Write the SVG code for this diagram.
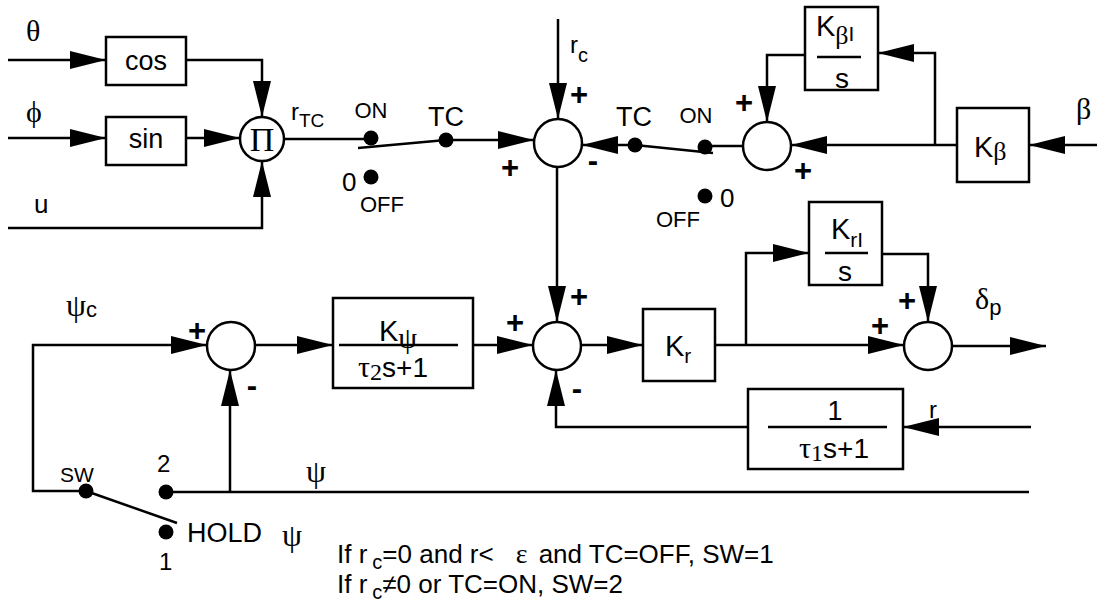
<svg xmlns="http://www.w3.org/2000/svg" width="1097" height="604" viewBox="0 0 1097 604">
<style>
.w{fill:none;stroke:#000;stroke-width:2.5}
.a{marker-end:url(#ah)}
.b{fill:#fff;stroke:#000;stroke-width:2.5}
.c{fill:#fff;stroke:#000;stroke-width:2.5}
.d{fill:#000}
text{font-family:"Liberation Sans",Arial,sans-serif;fill:#000}
.g{font-family:"Liberation Serif","Times New Roman",serif}
.p{font-weight:bold;font-size:31px;text-anchor:middle}
.m{text-anchor:middle}
</style>
<defs>
<marker id="ah" markerUnits="userSpaceOnUse" markerWidth="36" markerHeight="18" refX="36" refY="9" orient="auto" viewBox="0 0 36 18">
<path d="M0,0 L36,9 L0,18 z" fill="#000"/>
</marker>
</defs>
<g id="connectors">
<path class="w a" d="M8,60 H106"/>
<path class="w a" d="M186,60 H262 V117"/>
<path class="w a" d="M8,138 H106"/>
<path class="w a" d="M186,138 H240"/>
<path class="w a" d="M8,228 H262 V161"/>
<path class="w" d="M284,139 H371"/>
<path class="w a" d="M446,140 H534"/>
<path class="w a" d="M558,19 V119"/>
<path class="w a" d="M557,167 V322"/>
<path class="w a" d="M635,145 H582"/>
<path class="w" d="M743,146 H705"/>
<path class="w a" d="M1097,145 H1029"/>
<path class="w a" d="M957,145 H791"/>
<path class="w a" d="M935,145 V53 H878"/>
<path class="w a" d="M805,55 H767 V122"/>
<path class="w a" d="M86,491 H33 V345 H207"/>
<path class="w a" d="M255,345 H333"/>
<path class="w a" d="M473,345 H533"/>
<path class="w a" d="M581,345 H643"/>
<path class="w a" d="M715,345 H904"/>
<path class="w a" d="M746,345 V253 H809"/>
<path class="w a" d="M882,254 H928 V322"/>
<path class="w a" d="M952,346 H1046"/>
<path class="w a" d="M1031,427 H903"/>
<path class="w a" d="M748,427 H556 V370"/>
<path class="w" d="M166,492 H1029"/>
<path class="w a" d="M230,492 V370"/>
</g>
<g id="inputs">
<text class="g" x="26" y="41" font-size="30">θ</text>
<text class="g" x="26" y="122" font-size="30">ϕ</text>
<text x="34" y="213" font-size="26">u</text>
</g>
<g id="cos"><rect class="b" x="106" y="37" width="80" height="48"/><text class="m" x="146" y="70" font-size="27">cos</text></g>
<g id="sin"><rect class="b" x="106" y="117" width="80" height="48"/><text class="m" x="146" y="148" font-size="27">sin</text></g>
<g id="product"><circle class="c" cx="262" cy="139" r="22"/><text class="g m" x="262" y="151" font-size="34">Π</text></g>
<g id="rTC"><text x="291" y="120" font-size="24">r<tspan font-size="19" dy="7">TC</tspan></text></g>
<g id="switchTC1">
<path class="w" d="M358,148 L446,140"/>
<circle class="d" cx="371" cy="138" r="7.5"/>
<circle class="d" cx="446" cy="140" r="7.5"/>
<circle class="d" cx="371" cy="177" r="7.5"/>
<text class="m" x="371" y="118" font-size="22">ON</text>
<text class="m" x="446" y="126" font-size="27">TC</text>
<text x="342" y="191" font-size="26">0</text>
<text x="360" y="212" font-size="22">OFF</text>
</g>
<g id="rc"><text x="570" y="53" font-size="24">r<tspan font-size="20" dy="9">c</tspan></text></g>
<g id="sum1">
<circle class="c" cx="558" cy="143" r="24"/>
<text class="p" x="579" y="105">+</text>
<text class="p" x="510" y="178">+</text>
<text class="p" x="593" y="171">-</text>
</g>
<g id="switchTC2">
<path class="w" d="M635,145 L713,153"/>
<circle class="d" cx="635" cy="145" r="7.5"/>
<circle class="d" cx="705" cy="147" r="7.5"/>
<circle class="d" cx="705" cy="196" r="7.5"/>
<text class="m" x="634" y="126" font-size="27">TC</text>
<text class="m" x="696" y="123" font-size="22">ON</text>
<text x="720" y="207" font-size="26">0</text>
<text x="656" y="227" font-size="22">OFF</text>
</g>
<g id="sum3">
<circle class="c" cx="767" cy="146" r="24"/>
<text class="p" x="744" y="113">+</text>
<text class="p" x="803" y="181">+</text>
</g>
<g id="KbetaI">
<rect class="b" x="805" y="7" width="73" height="83"/>
<path class="w" d="M817,57 H861"/>
<text x="816" y="36" font-size="29">K<tspan class="g" font-size="26" dy="8">β</tspan><tspan font-size="21" dy="-3">I</tspan></text>
<text class="m" x="842" y="88" font-size="28">s</text>
</g>
<g id="Kbeta">
<rect class="b" x="957" y="108" width="72" height="74"/>
<text x="974" y="157" font-size="29">K<tspan class="g" font-size="26" dy="3">β</tspan></text>
</g>
<g id="beta"><text class="g" x="1076" y="119" font-size="30">β</text></g>
<g id="psic"><text class="g" x="66" y="316" font-size="32">ψ<tspan font-family="Liberation Sans" font-size="22" dy="1">c</tspan></text></g>
<g id="sumPsi">
<circle class="c" cx="231" cy="346" r="24"/>
<text class="p" x="197" y="341">+</text>
<text class="p" x="252" y="396">-</text>
</g>
<g id="Kpsi">
<rect class="b" x="333" y="298" width="140" height="90"/>
<path class="w" d="M339,345 H458"/>
<text x="379" y="341" font-size="29">K<tspan class="g" font-size="30" dy="7">ψ</tspan></text>
<text x="358" y="377" font-size="28"><tspan class="g" font-size="30">τ</tspan><tspan class="g" font-size="24" dy="3">2</tspan><tspan dy="-3">s+1</tspan></text>
</g>
<g id="sum2">
<circle class="c" cx="557" cy="346" r="24"/>
<text class="p" x="515" y="333">+</text>
<text class="p" x="579" y="307">+</text>
<text class="p" x="577" y="399">-</text>
</g>
<g id="Kr">
<rect class="b" x="643" y="309" width="72" height="72"/>
<text x="665" y="356" font-size="29">K<tspan font-size="21" dy="7">r</tspan></text>
</g>
<g id="KrI">
<rect class="b" x="809" y="202" width="73" height="83"/>
<path class="w" d="M825,253 H868"/>
<text x="831" y="239" font-size="29">K<tspan font-size="21" dy="8">rI</tspan></text>
<text class="m" x="845" y="281" font-size="28">s</text>
</g>
<g id="sum4">
<circle class="c" cx="928" cy="346" r="24"/>
<text class="p" x="907" y="311">+</text>
<text class="p" x="880" y="336">+</text>
</g>
<g id="deltap"><text class="g" x="975" y="309" font-size="30">δ<tspan font-family="Liberation Sans" font-size="22" dy="6">p</tspan></text></g>
<g id="tau1">
<rect class="b" x="748" y="389" width="155" height="80"/>
<path class="w" d="M768,427 H887"/>
<text class="m" x="835" y="420" font-size="27">1</text>
<text x="799" y="458" font-size="28"><tspan class="g" font-size="30">τ</tspan><tspan class="g" font-size="24" dy="3">1</tspan><tspan dy="-3">s+1</tspan></text>
</g>
<g id="rin"><text x="929" y="418" font-size="24">r</text></g>
<g id="switchSW">
<path class="w" d="M86,491 L177,523"/>
<circle class="d" cx="86" cy="491" r="7.5"/>
<circle class="d" cx="166" cy="492" r="7.5"/>
<circle class="d" cx="166" cy="532" r="7.5"/>
<text x="60" y="482" font-size="21">SW</text>
<text x="157" y="472" font-size="24">2</text>
<text x="159" y="570" font-size="24">1</text>
<text x="187" y="542" font-size="27">HOLD</text>
<text class="g" x="282" y="546" font-size="32">ψ</text>
</g>
<g id="psi"><text class="g" x="306" y="482" font-size="32">ψ</text></g>
<g id="notes">
<text x="337" y="563" font-size="26">If r<tspan font-size="20" dx="5" dy="6">c</tspan><tspan dy="-6">=0 and r&lt;</tspan><tspan class="g" font-size="28" dx="22">ε</tspan><tspan dx="4"> and TC=OFF, SW=1</tspan></text>
<text x="337" y="593" font-size="26">If r<tspan font-size="20" dx="5" dy="6">c</tspan><tspan dy="-6">≠0 or TC=ON, SW=2</tspan></text>
</g>
</svg>
